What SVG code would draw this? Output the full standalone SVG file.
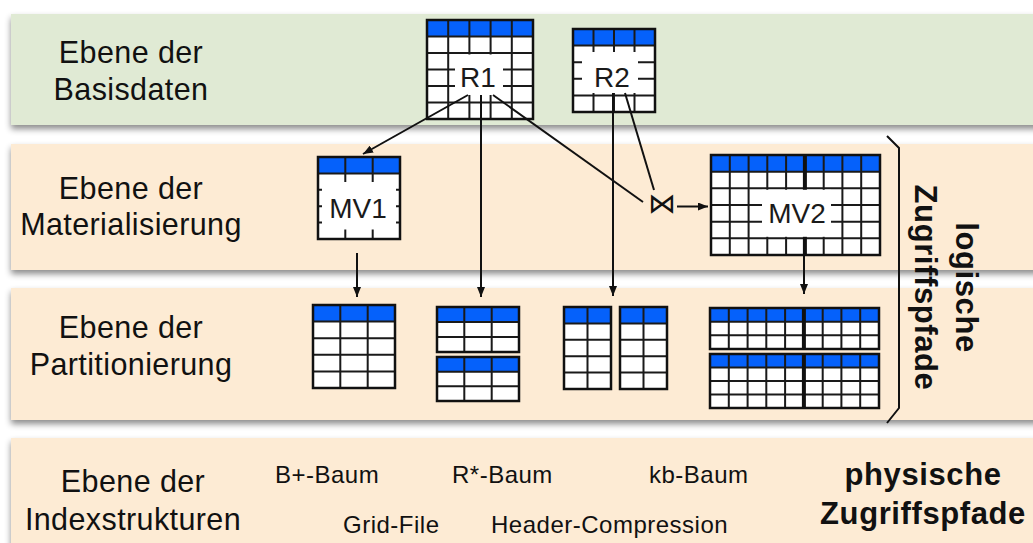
<svg xmlns="http://www.w3.org/2000/svg" width="1033" height="543" viewBox="0 0 1033 543">
  <defs>
    <filter id="shadow" x="-5%" y="-20%" width="110%" height="150%">
      <feDropShadow dx="0" dy="4" stdDeviation="3" flood-color="#000" flood-opacity="0.45"/>
    </filter>
    <marker id="arrow" viewBox="0 0 10 8" refX="10" refY="4" markerWidth="10" markerHeight="8" markerUnits="userSpaceOnUse" orient="auto">
      <path d="M0 0L10 4L0 8z" fill="#111"/>
    </marker>
    <style>
      .band-g { fill: #e0ead4; filter: url(#shadow); }
      .band-p { fill: #fdebd4; filter: url(#shadow); }
      .hdr { fill: #0561fb; }
      .body { fill: #ffffff; }
      .grid { fill: none; stroke: #1a1a1a; stroke-width: 2; }
      .thick { fill: none; stroke: #111; stroke-width: 4; }
      .frame { fill: none; stroke: #111; stroke-width: 2.5; }
      .wire { fill: none; stroke: #111; stroke-width: 2; }
      text { font-family: "Liberation Sans", Arial, sans-serif; fill: #111; }
      .lbl { font-size: 30.5px; letter-spacing: 0.4px; text-anchor: middle; }
      .tname { font-size: 28px; text-anchor: middle; fill: #1a1a1a; }
      .small { font-size: 24px; letter-spacing: 0.5px; }
      .bold { font-size: 31px; font-weight: bold; letter-spacing: 0.6px; text-anchor: middle; }
    </style>
  </defs>

  <rect width="1033" height="543" fill="#ffffff"/>

  <!-- layer bands -->
  <g id="band-basisdaten">
    <rect class="band-g" x="11" y="14" width="1040" height="111"/>
    <text class="lbl" x="131" y="63">Ebene der</text>
    <text class="lbl" x="131" y="100">Basisdaten</text>
  </g>
  <g id="band-materialisierung">
    <rect class="band-p" x="11" y="144" width="1040" height="126"/>
    <text class="lbl" x="131" y="199">Ebene der</text>
    <text class="lbl" x="131" y="235">Materialisierung</text>
  </g>
  <g id="band-partitionierung">
    <rect class="band-p" x="11" y="288" width="1040" height="132"/>
    <text class="lbl" x="131" y="338">Ebene der</text>
    <text class="lbl" x="131" y="375">Partitionierung</text>
  </g>
  <g id="band-indexstrukturen">
    <rect class="band-p" x="11" y="438" width="1040" height="120"/>
    <text class="lbl" x="133" y="492">Ebene der</text>
    <text class="lbl" x="133" y="530">Indexstrukturen</text>
    <text class="small" x="275" y="483">B+-Baum</text>
    <text class="small" x="452" y="483">R*-Baum</text>
    <text class="small" x="649" y="483">kb-Baum</text>
    <text class="small" x="343" y="533">Grid-File</text>
    <text class="small" x="491" y="533">Header-Compression</text>
    <text class="bold" x="923" y="485">physische</text>
    <text class="bold" x="923" y="524">Zugriffspfade</text>
  </g>

  <!-- base relations -->
  <g id="R1">
    <rect class="hdr" x="427" y="20" width="106" height="16.5"/>
    <rect class="body" x="427" y="36.5" width="106" height="82.5"/>
    <path class="grid" d="M448.2 20V119M469.4 20V119M490.6 20V119M511.8 20V119M427 36.5H533M427 53H533M427 69.5H533M427 86H533M427 102.5H533"/>
    <rect class="body" x="455" y="54.5" width="48" height="40.5"/>
    <rect class="frame" x="427" y="20" width="106" height="99"/>
    <text class="tname" x="478" y="87">R1</text>
  </g>
  <g id="R2">
    <rect class="hdr" x="573" y="29" width="82" height="16.6"/>
    <rect class="body" x="573" y="45.6" width="82" height="66.4"/>
    <path class="grid" d="M593.5 29V112M614 29V112M634.5 29V112M573 45.6H655M573 62.2H655M573 78.8H655M573 95.4H655"/>
    <rect class="body" x="582" y="52" width="56" height="41"/>
    <rect class="frame" x="573" y="29" width="82" height="83"/>
    <text class="tname" x="612" y="87">R2</text>
  </g>

  <!-- materialized views -->
  <g id="MV1">
    <rect class="hdr" x="318" y="157" width="82" height="16.4"/>
    <rect class="body" x="318" y="173.4" width="82" height="65.6"/>
    <path class="grid" d="M345.3 157V239M372.7 157V239M318 173.4H400M318 189.8H400M318 206.2H400M318 222.6H400"/>
    <rect class="body" x="322" y="182" width="74" height="47.5"/>
    <rect class="frame" x="318" y="157" width="82" height="82"/>
    <text class="tname" x="358" y="218">MV1</text>
  </g>
  <g id="join">
    <text x="662" y="213" font-family="DejaVu Sans, sans-serif" font-size="28" text-anchor="middle">⋈</text>
  </g>
  <g id="MV2">
    <rect class="hdr" x="711" y="155" width="169" height="16.7"/>
    <rect class="body" x="711" y="171.7" width="169" height="83.3"/>
    <path class="grid" d="M729.8 155V255M748.6 155V255M767.3 155V255M786.1 155V255M823.7 155V255M842.4 155V255M861.2 155V255M711 171.7H880M711 188.3H880M711 205H880M711 221.7H880M711 238.3H880"/>
    <path class="thick" d="M804.9 155V255"/>
    <rect class="body" x="762" y="189.8" width="69" height="47"/>
    <rect class="frame" x="711" y="155" width="169" height="100"/>
    <text class="tname" x="797" y="223">MV2</text>
  </g>

  <!-- partitions -->
  <g id="P1">
    <rect class="hdr" x="313" y="305" width="82" height="16.6"/>
    <rect class="body" x="313" y="321.6" width="82" height="66.4"/>
    <path class="grid" d="M340.3 305V388M367.7 305V388M313 321.6H395M313 338.2H395M313 354.8H395M313 371.4H395"/>
    <rect class="frame" x="313" y="305" width="82" height="83"/>
  </g>
  <g id="P2">
    <rect class="hdr" x="437" y="307" width="82" height="15"/>
    <rect class="body" x="437" y="322" width="82" height="30"/>
    <path class="grid" d="M464.3 307V352M491.7 307V352M437 322H519M437 337H519"/>
    <rect class="frame" x="437" y="307" width="82" height="45"/>
    <rect class="hdr" x="437" y="357" width="82" height="14.7"/>
    <rect class="body" x="437" y="371.7" width="82" height="29.3"/>
    <path class="grid" d="M464.3 357V401M491.7 357V401M437 371.7H519M437 386.3H519"/>
    <rect class="frame" x="437" y="357" width="82" height="44"/>
  </g>
  <g id="P3">
    <rect class="hdr" x="564" y="307" width="47" height="16.4"/>
    <rect class="body" x="564" y="323.4" width="47" height="65.6"/>
    <path class="grid" d="M587.5 307V389M564 323.4H611M564 339.8H611M564 356.2H611M564 372.6H611"/>
    <rect class="frame" x="564" y="307" width="47" height="82"/>
    <rect class="hdr" x="620" y="307" width="47" height="16.4"/>
    <rect class="body" x="620" y="323.4" width="47" height="65.6"/>
    <path class="grid" d="M643.5 307V389M620 323.4H667M620 339.8H667M620 356.2H667M620 372.6H667"/>
    <rect class="frame" x="620" y="307" width="47" height="82"/>
  </g>
  <g id="P4">
    <rect class="hdr" x="710" y="308" width="169" height="13.7"/>
    <rect class="body" x="710" y="321.7" width="169" height="27.3"/>
    <path class="grid" d="M728.8 308V349M747.6 308V349M766.3 308V349M785.1 308V349M822.7 308V349M841.4 308V349M860.2 308V349M710 321.7H879M710 335.3H879"/>
    <path class="thick" d="M803.9 308V349"/>
    <rect class="frame" x="710" y="308" width="169" height="41"/>
    <rect class="hdr" x="710" y="354" width="169" height="13.5"/>
    <rect class="body" x="710" y="367.5" width="169" height="40.5"/>
    <path class="grid" d="M728.8 354V408M747.6 354V408M766.3 354V408M785.1 354V408M822.7 354V408M841.4 354V408M860.2 354V408M710 367.5H879M710 381H879M710 394.5H879"/>
    <path class="thick" d="M803.9 354V408"/>
    <rect class="frame" x="710" y="354" width="169" height="54"/>
  </g>

  <!-- bracket for the logical access paths -->
  <g id="logische-zugriffspfade">
    <path class="wire" d="M887 136L899 148V408L887 423"/>
    <text class="bold" transform="translate(956 287.5) rotate(90)">logische</text>
    <text class="bold" transform="translate(915 287.5) rotate(90)">Zugriffspfade</text>
  </g>

  <!-- connectors -->
  <g id="connectors">
    <path class="wire" d="M468 95L363 154" marker-end="url(#arrow)"/>
    <path class="wire" d="M481 95V297" marker-end="url(#arrow)"/>
    <path class="wire" d="M493 95L643 202"/>
    <path class="wire" d="M613 93V296" marker-end="url(#arrow)"/>
    <path class="wire" d="M625 93L654 190"/>
    <path class="wire" d="M677 206.5H708" marker-end="url(#arrow)"/>
    <path class="wire" d="M357 253V297" marker-end="url(#arrow)"/>
    <path class="wire" d="M804 255V294" marker-end="url(#arrow)"/>
  </g>
</svg>
